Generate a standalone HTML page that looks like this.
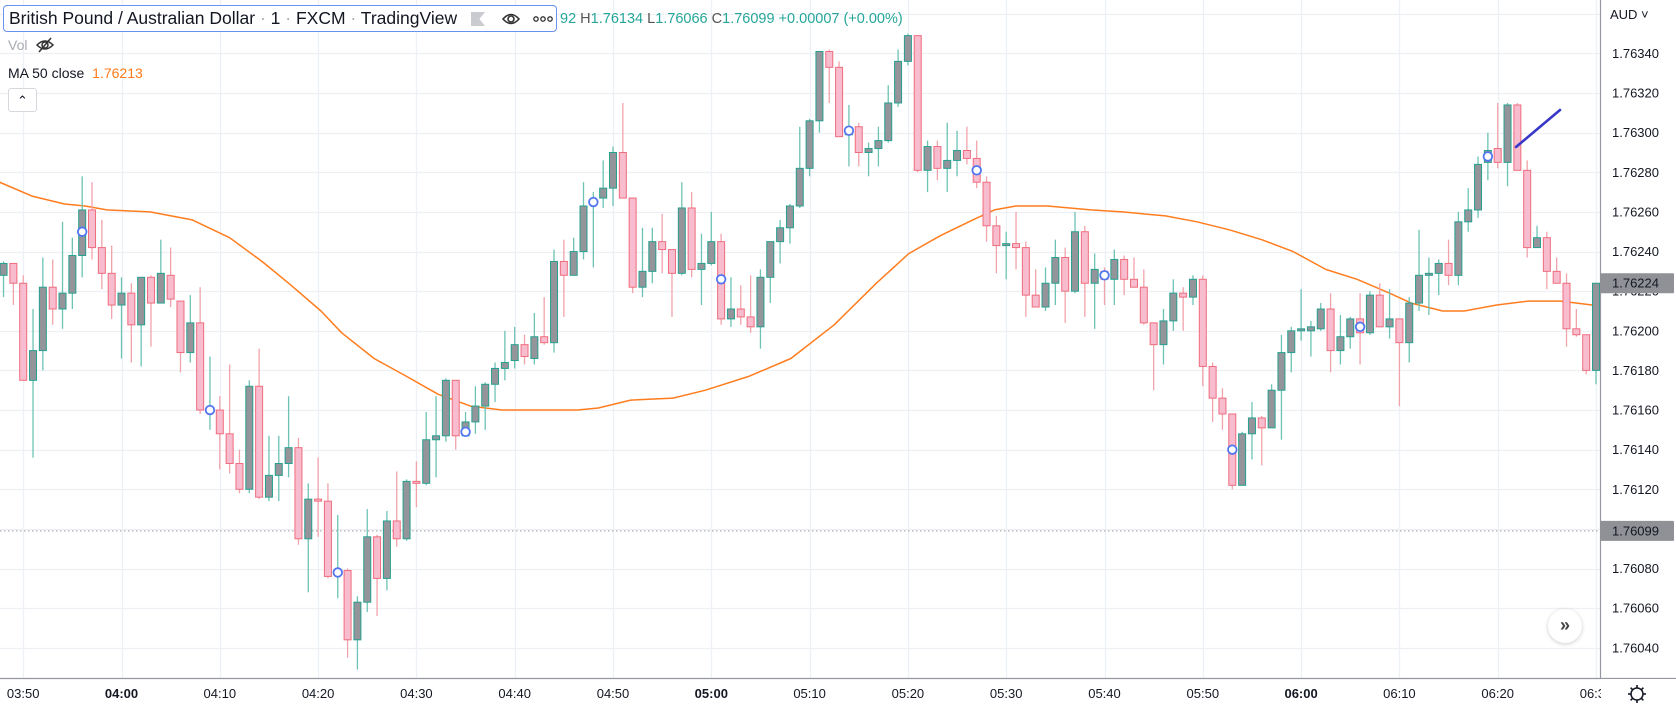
<!DOCTYPE html>
<html><head><meta charset="utf-8"><style>
body{margin:0;background:#fff;font-family:"Liberation Sans",sans-serif;}
#wrap{position:relative;width:1676px;height:710px;overflow:hidden;background:#fff;}
svg{position:absolute;left:0;top:0;}
.leg{position:absolute;white-space:nowrap;}
</style></head><body>
<div id="wrap">
<svg id="chart" width="1676" height="710"></svg>

<div class="leg" style="left:3px;top:5px;width:552px;height:25px;border:1px solid #6a93ef;border-radius:4px;background:#fff;">
  <span style="position:absolute;left:5px;top:2px;font-size:17.5px;color:#131722;">British Pound / Australian Dollar <span style="color:#aaa">·</span> 1 <span style="color:#aaa">·</span> FXCM <span style="color:#aaa">·</span> TradingView</span>
  <span style="position:absolute;left:467px;top:6px;width:14px;height:14px;background:#c9cbd1;clip-path:polygon(0 0,100% 0,60% 50%,100% 100%,0 100%);"></span>
  <svg style="left:497px;top:5px" width="20" height="16"><path d="M2 8 Q10 -1 18 8 Q10 17 2 8Z" fill="none" stroke="#333" stroke-width="1.6"/><circle cx="10" cy="8" r="3" fill="none" stroke="#333" stroke-width="1.6"/></svg>
  <svg style="left:529px;top:9px" width="20" height="8"><circle cx="3" cy="4" r="2.2" fill="none" stroke="#333" stroke-width="1.3"/><circle cx="10" cy="4" r="2.2" fill="none" stroke="#333" stroke-width="1.3"/><circle cx="17" cy="4" r="2.2" fill="none" stroke="#333" stroke-width="1.3"/></svg>
</div>
<div class="leg" style="left:560px;top:11px;font-size:14.5px;color:#26a69a;">92 <span style="color:#555">H</span>1.76134 <span style="color:#555">L</span>1.76066 <span style="color:#555">C</span>1.76099 +0.00007 (+0.00%)</div>
<div class="leg" style="left:8px;top:37px;font-size:14px;color:#a8abb3;">Vol</div>
<svg style="left:35px;top:36px" width="20" height="18"><path d="M2 9 Q10 1 18 9 Q10 17 2 9Z" fill="none" stroke="#333" stroke-width="1.5"/><circle cx="10" cy="9" r="3" fill="none" stroke="#333" stroke-width="1.5"/><line x1="4" y1="16" x2="16" y2="2" stroke="#333" stroke-width="1.5"/></svg>
<div class="leg" style="left:8px;top:65px;font-size:14px;color:#131722;">MA 50 close <span style="color:#ff7a1a;margin-left:4px">1.76213</span></div>
<div class="leg" style="left:8px;top:88px;width:27px;height:22px;border:1px solid #d6d8de;border-radius:3px;background:#fff;text-align:center;font-size:13px;line-height:24px;color:#131722;">&#8963;</div>
<div class="leg" style="left:1548px;top:609px;width:34px;height:34px;border-radius:50%;background:#fff;box-shadow:0 1px 4px rgba(0,0,0,0.2);text-align:center;line-height:32px;font-size:18px;font-weight:bold;color:#444;">&#187;</div>
</div>
<script>
// values in units of 0.00001 above 1.76000; first candle index = -2 (03:48)
const startIndex = -2;
const opens = [228,234,224,175,190,222,211,219,238,261,242,229,213,219,203,227,214,228,215,189,204,159,160,148,133,120,172,116,127,133,141,95,115,114,77,79,44,63,96,75,104,95,124,123,145,147,175,147,154,162,173,181,185,193,186,197,194,235,228,240,264,267,272,290,267,222,230,245,241,229,262,231,234,245,206,211,207,202,227,245,252,263,282,306,341,333,299,303,290,292,296,315,336,349,281,293,282,286,291,287,275,253,243,244,242,218,212,224,237,220,250,224,230,226,236,226,222,204,193,205,219,217,226,182,166,158,122,148,156,151,170,189,200,200,201,211,190,197,206,199,218,202,206,194,214,228,229,234,228,255,261,285,292,285,314,281,242,247,230,224,201,198,180];
const highs = [235,234,228,211,237,236,255,247,278,275,256,243,227,224,227,228,246,242,215,218,222,187,167,183,140,175,191,147,147,167,146,123,136,123,107,80,66,110,97,109,129,125,134,159,167,176,175,159,172,174,184,200,202,198,209,217,241,246,247,275,270,286,293,315,267,252,252,259,241,275,270,249,260,249,227,223,228,231,245,256,264,303,307,341,342,336,314,305,295,303,324,342,350,349,296,296,305,301,303,296,278,258,250,260,245,231,232,246,242,260,253,239,232,241,238,237,231,204,211,226,222,228,228,184,171,158,149,164,157,173,198,202,221,205,214,219,208,207,219,220,224,221,206,217,251,237,236,246,260,272,288,300,315,315,315,286,253,250,237,229,211,198,224];
const lows = [217,213,175,136,180,203,201,211,227,236,221,206,186,184,182,192,214,212,179,184,158,150,130,128,118,118,115,114,114,126,92,68,96,75,65,35,29,58,56,69,91,94,111,122,126,144,140,147,148,150,164,175,181,183,183,193,189,207,228,236,232,262,263,267,219,217,224,229,207,228,227,213,233,203,202,203,199,191,214,234,244,262,278,300,315,298,283,283,278,283,295,313,334,280,270,276,270,278,284,272,245,229,226,231,207,212,210,213,204,219,207,201,213,213,218,222,203,170,183,200,200,213,172,154,150,120,122,135,132,151,145,179,195,187,200,179,183,191,183,198,202,196,162,184,210,208,218,223,223,250,257,276,282,273,281,237,242,221,224,192,197,178,173];
const closes = [234,224,175,190,222,211,219,238,261,242,229,213,219,203,227,214,229,216,189,204,160,161,148,133,120,172,116,127,133,141,95,115,114,76,78,44,63,96,75,104,95,124,123,145,147,175,147,154,162,173,181,184,193,187,197,194,235,228,240,263,266,272,290,267,222,230,245,241,229,262,231,234,245,206,211,207,202,227,245,252,263,282,306,341,333,298,301,290,292,296,315,336,349,281,293,282,286,291,287,275,253,243,244,242,218,212,224,237,220,250,224,231,226,236,226,222,204,193,205,219,217,226,182,166,158,122,148,156,151,170,189,200,201,202,211,190,197,206,199,218,202,206,194,214,228,229,234,228,255,261,284,291,285,314,281,242,247,230,224,201,198,180,224];
const markerIdx = [6,19,32,45,58,71,84,97,110,123,136,149];
const markerVals = [250,160,78,149,265,226,301,281,228,140,202,288];
const maIdx = [-2.4,0.9,4.2,6.3,8.5,12.9,17.2,21,24.3,27,30.3,32.4,35.7,39,42.2,45.5,48.7,52,56.4,58.5,61.8,66.1,69.4,73.8,78.1,82.5,86.8,90.1,93.3,96.6,98.8,101,104.2,108.6,111.8,116.2,119.4,122.7,126,129.2,132.5,135.7,139,141.2,144.4,146.6,149.9,153.1,156.4,159.6,161];
const maVals = [275,268,264,263,261,260,256,247,235,224,210,199,186,177,168,162,160,160,160,161,165,166,170,177,186,203,224,239,248,256,261,263,263,261,260,258,255,251,246,240,231,226,219,214,210,210,213,215,215,213,213];
const priceTicks = [340,320,300,280,260,240,220,200,180,160,140,120,100,80,60,40];
const timeLabels = ["03:50","04:00","04:10","04:20","04:30","04:40","04:50","05:00","05:10","05:20","05:30","05:40","05:50","06:00","06:10","06:20","06:30"];
const boldLabels = ["04:00","05:00","06:00"];
const lastPrice = 224, lastClose = 99;

const NS="http://www.w3.org/2000/svg";
const svg=document.getElementById('chart');
const PLOT_R=1600, PLOT_B=678;
function yOf(v){return 53.45+(340-v)*1.981;}
function xOf(i){return 23.2+i*9.83;}
function mk(tag,attrs,parent){const e=document.createElementNS(NS,tag);for(const k in attrs)e.setAttribute(k,attrs[k]);(parent||svg).appendChild(e);return e;}

const grid=mk('g',{});


for(let v=360;v>=40;v-=20){const y=Math.round(yOf(v))+0.5;const l=mk('line',{x1:0,x2:PLOT_R,y1:y,y2:y,stroke:'#edf0f4','stroke-width':1.3},grid);

}
timeLabels.forEach((t,k)=>{const x=Math.round(xOf(k*10))+0.5;const l=mk('line',{x1:x,x2:x,y1:0,y2:PLOT_B,stroke:'#edf0f4','stroke-width':1.3},grid);

});

const dl=mk('line',{x1:0,x2:PLOT_R,y1:yOf(lastClose),y2:yOf(lastClose),stroke:'#9a9ca3','stroke-dasharray':'1.5,2.5','stroke-width':1});



const pts=maIdx.map((i,k)=>xOf(i).toFixed(1)+','+yOf(maVals[k]).toFixed(1)).join(' ');
const ma=mk('polyline',{points:pts,fill:'none',stroke:'#ff7d1f','stroke-width':1.5,'stroke-linejoin':'round'});



const cg=mk('g',{});


opens.forEach((o,k)=>{
  const i=startIndex+k, c=closes[k], h=highs[k], l=lows[k];
  const up=c>=o; const x=xOf(i);
  const g=mk('g',{},cg);
  
  
  const w=mk('line',{x1:x,x2:x,y1:yOf(h),y2:yOf(l),stroke:up?'#6cc3b4':'#f1a3ab','stroke-width':1.3},g);
  
  
  const top=yOf(Math.max(o,c)), bot=yOf(Math.min(o,c));
  const b=mk('rect',{x:x-3.5,y:top,width:7,height:Math.max(1.2,bot-top),fill:up?'#93959b':'#f8bccf',stroke:up?'#27a08f':'#ef6d7e','stroke-width':1},g);
  
  
});

markerIdx.forEach((i,k)=>{const m=mk('circle',{cx:xOf(i),cy:yOf(markerVals[k]),r:4.3,fill:'#fff',stroke:'#5276f0','stroke-width':1.8});

});

const tl=mk('line',{x1:1516,y1:147,x2:1560,y2:110,stroke:'#3838c8','stroke-width':2.6,'stroke-linecap':'round'});



const pa=mk('g',{});


mk('rect',{x:PLOT_R,y:0,width:76,height:710,fill:'#fff'},pa);
mk('line',{x1:PLOT_R+0.5,x2:PLOT_R+0.5,y1:0,y2:PLOT_B,stroke:'#9598a1','stroke-width':1.2},pa);
const aud=mk('text',{x:1610,y:19,'font-size':13,fill:'#131722','font-family':'Liberation Sans, sans-serif'},pa);
aud.textContent='AUD \u02c5';


priceTicks.forEach(v=>{const t=mk('text',{x:1612,y:yOf(v)+4.5,'font-size':13,fill:'#131722','font-family':'Liberation Sans, sans-serif'},pa);
t.textContent=(1.76+v/1e5).toFixed(5);

});
[lastPrice,lastClose].forEach(v=>{const y=yOf(v);
 const r=mk('rect',{x:PLOT_R,y:y-10,width:74,height:20,fill:'#8f9197',rx:1},pa);
 
 
 const t=mk('text',{x:1612,y:y+4.5,'font-size':13,fill:'#131722','font-family':'Liberation Sans, sans-serif'},pa);
 t.textContent=(1.76+v/1e5).toFixed(5);
 
 });

const ta=mk('g',{});


mk('rect',{x:0,y:PLOT_B,width:PLOT_R,height:32,fill:'#fff'},ta);
mk('line',{x1:0,x2:1676,y1:PLOT_B+0.5,y2:PLOT_B+0.5,stroke:'#9598a1','stroke-width':1.2},ta);
timeLabels.forEach((s,k)=>{const t=mk('text',{x:xOf(k*10),y:698,'font-size':13,'text-anchor':'middle',fill:'#131722','font-weight':boldLabels.includes(s)?'bold':'normal','font-family':'Liberation Sans, sans-serif'},ta);
t.textContent=s;

});
mk('rect',{x:PLOT_R+1,y:PLOT_B+1,width:75,height:31,fill:'#fff'},ta);
const gear=mk('g',{},ta);


mk('circle',{cx:1637,cy:694,r:6,fill:'none',stroke:'#131722','stroke-width':1.5},gear);
for(let a=0;a<8;a++){const r=a*Math.PI/4;mk('line',{x1:1637+6*Math.cos(r),y1:694+6*Math.sin(r),x2:1637+9*Math.cos(r),y2:694+9*Math.sin(r),stroke:'#131722','stroke-width':1.6},gear);}
</script>
</body></html>
